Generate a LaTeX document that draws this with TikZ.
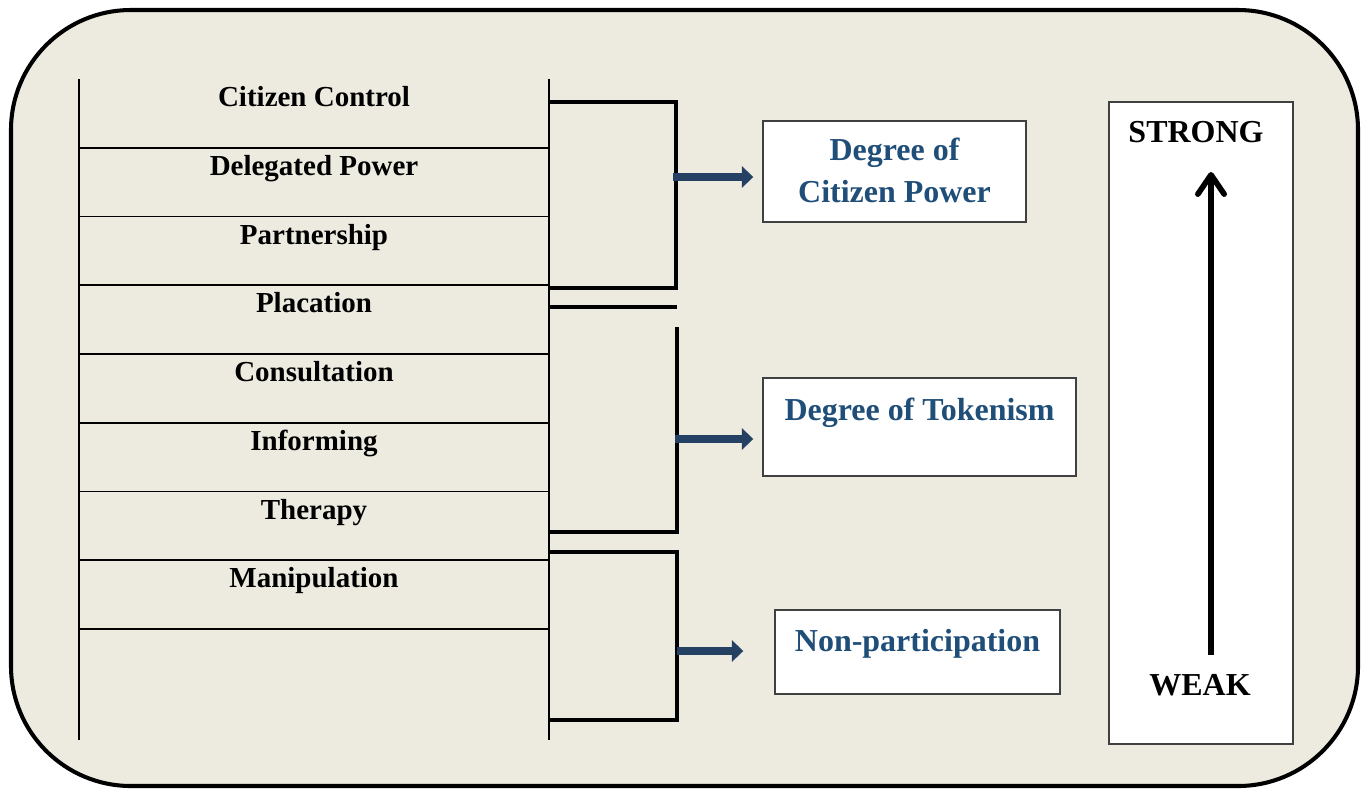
\documentclass[tikz,border=0pt]{standalone}
\usepackage{fontspec}
\setmainfont{Liberation Serif}
\usetikzlibrary{arrows.meta,fit}

\definecolor{paper}{RGB}{237,235,224}
\definecolor{navy}{RGB}{36,64,98}
\definecolor{inkblue}{RGB}{31,78,121}

\begin{document}
\begin{tikzpicture}[x=0.02cm,y=-0.02cm,
                rung/.style={line width=1.1pt},
                brace/.style={line width=2.3pt},
                rungtext/.style={anchor=base,font=\fontsize{16.5}{20}\selectfont\bfseries},
                outbox/.style={draw=black!75,line width=0.8pt,fill=white,inner sep=0pt},
                bluetext/.style={anchor=base,font=\fontsize{18.2}{24}\selectfont\bfseries,text=inkblue},
                scaletext/.style={anchor=base,font=\fontsize{18.2}{22}\selectfont\bfseries},
                bigarrow/.style={navy,line width=5pt,-{Triangle[length=6.5pt,width=12pt]}}]
  \fill[white] (0,0) rectangle (1362,789);
  \useasboundingbox (0,0) rectangle (1362,789);
  \draw[line width=2.3pt,fill=paper,rounded corners=2.4cm] (11,10) rectangle (1358,786);
  % the ladder
  \draw[rung] (79,79) -- (79,740);
  \draw[rung] (549,79) -- (549,740);
  \foreach \i/\t in {0/Citizen Control,1/Delegated Power,2/Partnership,3/Placation,
                     4/Consultation,5/Informing,6/Therapy,7/Manipulation}{
    \node[rungtext] (r\i) at (314,{79+68.75*\i+27.5}) {\t};
    \draw[rung] (79,{147.75+68.75*\i}) -- (549,{147.75+68.75*\i});
  }
  % brackets
  \draw[brace] (549,102) -- (676,102) -- (676,288) -- (549,288);
  \draw[brace] (549,307) -- (677,307);
  \draw[brace] (677,327) -- (677,532) -- (549,532);
  \draw[brace] (549,552) -- (677,552) -- (677,720) -- (549,720);
  \coordinate (cpfork) at (673,177);
  \coordinate (tkfork) at (675,439);
  \coordinate (npfork) at (677,651);
  % degrees
  \node[outbox,fit={(763,121) (1026,222)}] (cpbox) {};
  \node[bluetext] (cptext) at (894.5,160.5) {Degree of};
  \node[bluetext] (cptext2) at (894.5,202.5) {Citizen Power};
  \node[outbox,fit={(763,378) (1076,476)}] (tkbox) {};
  \node[bluetext] (tktext) at (919.5,420.5) {Degree of Tokenism};
  \node[outbox,fit={(775,610) (1060,694)}] (npbox) {};
  \node[bluetext] (nptext) at (917.5,651.5) {Non-participation};
  \draw[bigarrow,shorten >=0.18cm] (cpfork) -- (cpfork -| cpbox.west);
  \draw[bigarrow,shorten >=0.18cm] (tkfork) -- (tkfork -| tkbox.west);
  \draw[bigarrow,shorten >=0.62cm] (npfork) -- (npfork -| npbox.west);
  % scale
  \node[outbox,fit={(1109,102) (1293,744)}] (scalebox) {};
  \node[scaletext] (strong) at (1196,142.5) {STRONG};
  \node[scaletext] (weak) at (1200,695.5) {WEAK};
  \coordinate (lo) at (1211,655);
  \coordinate (hi) at (1211,172);
  \draw[line width=3.2pt,-{Straight Barb[length=11pt,width=15pt,round]}] (lo) -- (hi);
\end{tikzpicture}
\end{document}
